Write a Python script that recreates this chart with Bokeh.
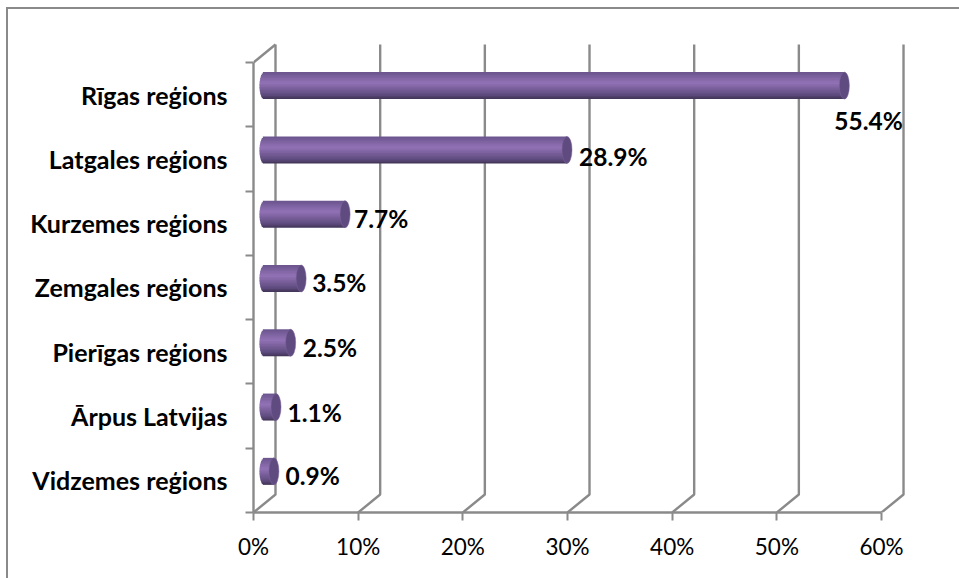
from bokeh.plotting import figure
from bokeh.models import Range1d, FixedTicker, InlineStyleSheet, ColumnDataSource
from bokeh.core.properties import value
from bokeh.embed import file_html
from bokeh.resources import INLINE
import math

categories = ["Rīgas reģions", "Latgales reģions", "Kurzemes reģions", "Zemgales reģions",
              "Pierīgas reģions", "Ārpus Latvijas", "Vidzemes reģions"]
values = [55.4, 28.9, 7.7, 3.5, 2.5, 1.1, 0.9]
value_labels = ["55.4%", "28.9%", "7.7%", "3.5%", "2.5%", "1.1%", "0.9%"]
x_ticks = [0, 10, 20, 30, 40, 50, 60]
x_tick_labels = ["0%", "10%", "20%", "30%", "40%", "50%", "60%"]

label_dx = [-15, 7, 4, 6, 7, 6.5, 6.5]
label_dy = [35, 7, 4, 4, 5, 5.5, 4]

WIDTH, HEIGHT = 959, 578
FRAME_L, FRAME_T, FRAME_R, FRAME_B = 253, 42, 908, 512
PX_X = 10.467
PX_Y = 64.29
DEPTH_X, DEPTH_Y = 22 / PX_X, 18 / PX_Y
BAR_PX = 27
CAP_PX = 5
GRID = "#8a8a8a"
LINE_W = 2.4
FONT = "Lato"

border_css = InlineStyleSheet(css="""
:host::after {
  content: ""; position: absolute; left: 6px; top: 7px; right: 0; bottom: 0;
  border-left: 2px solid #8a8a8a; border-top: 2px solid #8a8a8a;
  pointer-events: none;
}
""")

p = figure(width=WIDTH, height=HEIGHT, output_backend="svg", toolbar_location=None,
           x_range=Range1d(0, (FRAME_R - FRAME_L) / PX_X),
           y_range=Range1d(0, (FRAME_B - FRAME_T) / PX_Y),
           min_border_left=FRAME_L, min_border_right=WIDTH - FRAME_R,
           min_border_top=FRAME_T, min_border_bottom=HEIGHT - FRAME_B,
           margin=(0, 0, 0, 0), stylesheets=[border_css])
p.outline_line_color = None
p.grid.visible = False
p.background_fill_color = "white"

n = len(categories)
centers = [n - 0.5 - i for i in range(n)]

# back wall verticals with their slanted floor links
wall_xs, wall_ys = [], []
for t in x_ticks:
    wall_xs.append([t, t + DEPTH_X, t + DEPTH_X])
    wall_ys.append([0, DEPTH_Y, n + DEPTH_Y])
p.multi_line(wall_xs, wall_ys, line_color=GRID, line_width=LINE_W)
# left wall top link
p.line([0, DEPTH_X], [n, n + DEPTH_Y], line_color=GRID, line_width=LINE_W)

# cylinders: overlapping horizontal strips forming the shading
stops = [(0.0, (0x6a, 0x54, 0x8c)), (0.4, (0x92, 0x72, 0xb6)),
         (0.85, (0x5e, 0x4b, 0x7e)), (1.0, (0x3f, 0x32, 0x53))]
def shade(t):
    for (a, ca), (b, cb) in zip(stops, stops[1:]):
        if t <= b:
            k = (t - a) / (b - a)
            return "#%02x%02x%02x" % tuple(round(u + (v - u) * k) for u, v in zip(ca, cb))
    return "#3f3253"

N = 18
strip_h = BAR_PX / N / PX_Y
for s in range(N):
    t = (s + 0.5) / N
    off = math.sqrt(max(0, 1 - (2 * t - 1) ** 2)) * CAP_PX / PX_X
    ys = [c + (DEPTH_Y / 2) + (0.5 - t) * BAR_PX / PX_Y for c in centers]
    extra = 0 if s == N - 1 else 0.5 * strip_h
    p.hbar(y=[y - extra / 2 for y in ys], height=strip_h + extra,
           left=[DEPTH_X / 2 - off] * n,
           right=[v + DEPTH_X / 2 for v in values],
           fill_color=shade(t), line_color=None)

p.ellipse(x=[v + DEPTH_X / 2 for v in values], y=[c + DEPTH_Y / 2 for c in centers],
          width=2 * CAP_PX, height=BAR_PX, width_units="screen", height_units="screen",
          fill_color="#5f4b80", line_color="#7a6499", line_width=0.5)

# axes
xa = p.xaxis[0]
xa.ticker = FixedTicker(ticks=x_ticks)
xa.major_label_overrides = dict(zip(x_ticks, x_tick_labels))
xa.bounds = (0, 60)
ya = p.yaxis[0]
ya.ticker = FixedTicker(ticks=centers, minor_ticks=list(range(n + 1)))
ya.major_label_overrides = dict(zip(centers, categories))
ya.bounds = (0, n)
for ax in (xa, ya):
    ax.axis_line_color = GRID
    ax.axis_line_width = LINE_W
xa.major_tick_line_color = GRID
xa.major_tick_line_width = 2
xa.major_tick_out = 8
xa.major_tick_in = 0
xa.minor_tick_line_color = None
xa.major_label_standoff = 12
xa.major_label_text_font = FONT
xa.major_label_text_font_size = "22.5px"
xa.major_label_text_color = "#000000"
ya.major_tick_line_color = None
ya.major_tick_out = 0
ya.major_tick_in = 0
ya.minor_tick_line_color = GRID
ya.minor_tick_line_width = 2
ya.minor_tick_out = 8
ya.minor_tick_in = 0
ya.major_label_standoff = 18
ya.major_label_text_font = FONT
ya.major_label_text_font_style = "bold"
ya.major_label_text_font_size = "25px"
ya.major_label_text_color = "#000000"

# data labels
src = ColumnDataSource(dict(
    x=[v + DEPTH_X / 2 + CAP_PX / PX_X for v in values],
    y=[c + DEPTH_Y / 2 for c in centers],
    t=value_labels,
    dx=label_dx,
    dy=label_dy,
))
p.text(x="x", y="y", text="t", x_offset="dx", y_offset="dy", source=src,
       text_font=value(FONT), text_font_style="bold", text_font_size=value("24.5px"),
       text_color="#000000", text_baseline="middle", text_align="left")

open("out.html", "w").write(file_html(p, INLINE))
